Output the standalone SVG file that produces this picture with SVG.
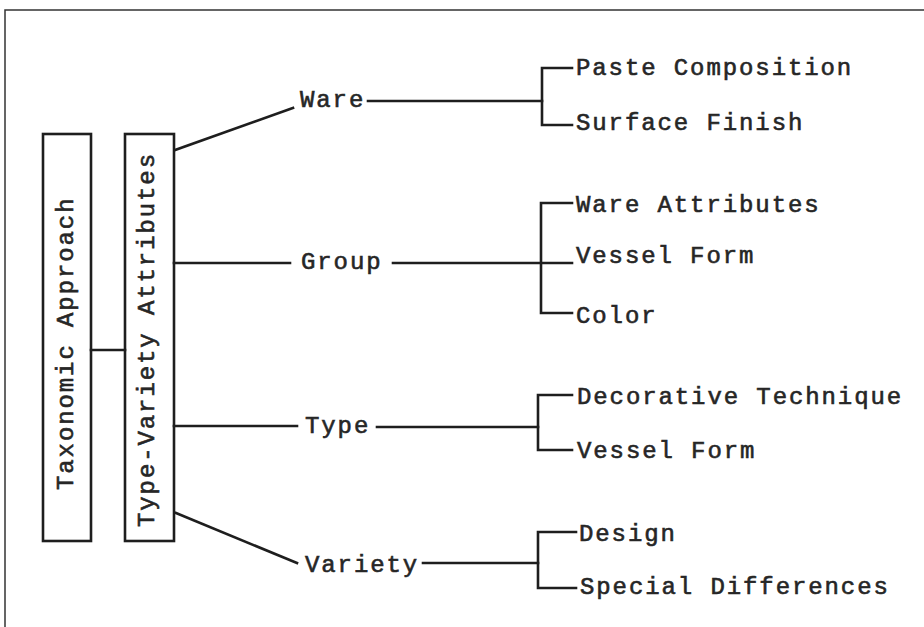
<svg xmlns="http://www.w3.org/2000/svg" width="924" height="627" viewBox="0 0 924 627">
<style>
.t{font-family:"Liberation Mono","DejaVu Sans Mono",monospace;font-size:24px;letter-spacing:1.9px;fill:#262626;stroke:#262626;stroke-width:0.6}
.ln{fill:none;stroke:#1e1e1e;stroke-width:2.6;stroke-linecap:square;stroke-linejoin:miter}
.box{fill:#fff;stroke:#1e1e1e;stroke-width:2.6}
</style>
<rect width="924" height="627" fill="#fff"/>
<path d="M5 627V10H924" fill="none" stroke="#333" stroke-width="1.5"/>
<g id="taxonomic-approach">
<rect class="box" x="43" y="134" width="48" height="407"/>
<text class="t" x="73" y="490" transform="rotate(-90 73 490)">Taxonomic Approach</text>
</g>
<g id="type-variety-attributes">
<rect class="box" x="125" y="134" width="49" height="407"/>
<text class="t" x="154" y="527" transform="rotate(-90 154 527)">Type-Variety Attributes</text>
</g>
<g id="ware"><text class="t" x="300" y="107">Ware</text></g>
<g id="group"><text class="t" x="301" y="269">Group</text></g>
<g id="type"><text class="t" x="305" y="433">Type</text></g>
<g id="variety"><text class="t" x="305" y="572">Variety</text></g>
<g id="paste-composition"><text class="t" x="576" y="75">Paste Composition</text></g>
<g id="surface-finish"><text class="t" x="576" y="130">Surface Finish</text></g>
<g id="ware-attributes"><text class="t" x="576" y="212">Ware Attributes</text></g>
<g id="vessel-form-1"><text class="t" x="576" y="263">Vessel Form</text></g>
<g id="color"><text class="t" x="576" y="323">Color</text></g>
<g id="decorative-technique"><text class="t" x="577" y="404">Decorative Technique</text></g>
<g id="vessel-form-2"><text class="t" x="577" y="458">Vessel Form</text></g>
<g id="design"><text class="t" x="579" y="541">Design</text></g>
<g id="special-differences"><text class="t" x="580" y="594">Special Differences</text></g>
<g id="connectors">
<path class="ln" d="M91 350H125"/>
<path class="ln" d="M175 150L293 108"/>
<path class="ln" d="M174 263H290"/>
<path class="ln" d="M174 426H297"/>
<path class="ln" d="M176 513L297 563"/>
<path class="ln" d="M368 101H542"/>
<path class="ln" d="M572 68H542V125H572"/>
<path class="ln" d="M393 263H572"/>
<path class="ln" d="M572 203H541V313H572"/>
<path class="ln" d="M377 427H538"/>
<path class="ln" d="M572 395H538V450H572"/>
<path class="ln" d="M423 563H538"/>
<path class="ln" d="M576 532H538V588H576"/>
</g>
</svg>
